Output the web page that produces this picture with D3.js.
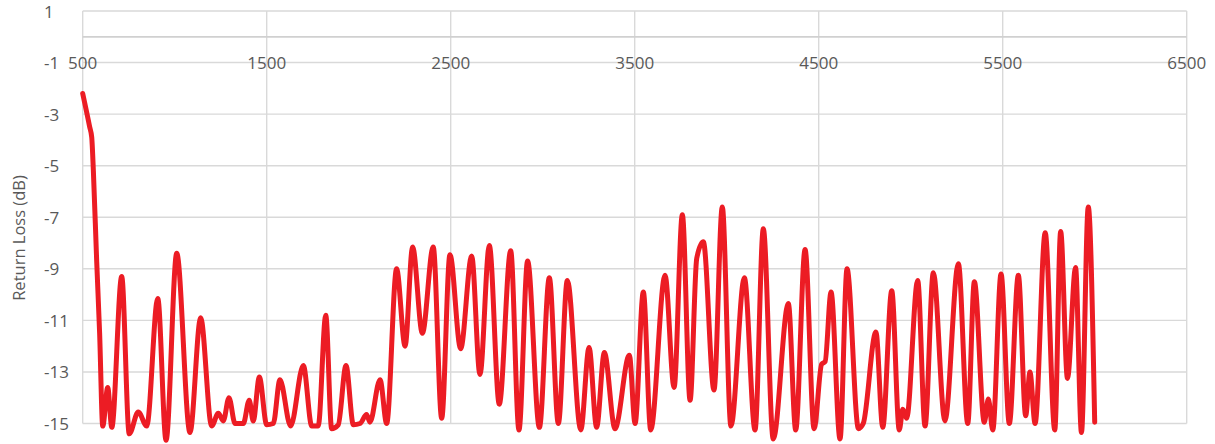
<!DOCTYPE html>
<html>
<head>
<meta charset="utf-8">
<script src="https://cdn.jsdelivr.net/npm/d3@7"></script>
<style>
  html, body { margin: 0; padding: 0; background: #ffffff; }
  svg { display: block; }
  text { font-family: "Open Sans", "Noto Sans", sans-serif; fill: #595959; }
</style>
</head>
<body>
<svg id="chart" width="1215" height="444"></svg>
<script>
// Frequency (MHz) sampled at visible peaks / troughs of the trace
const freq = [500, 538, 549, 558, 576, 592, 609, 636, 658, 712, 753, 802, 848, 908, 953, 1011, 1083, 1141, 1201, 1237, 1264, 1295, 1328, 1373, 1405, 1427, 1460, 1500, 1536, 1572, 1630, 1699, 1745, 1780, 1821, 1853, 1889, 1931, 1971, 2007, 2043, 2061, 2116, 2152, 2206, 2252, 2293, 2346, 2405, 2451, 2496, 2554, 2614, 2659, 2710, 2764, 2826, 2871, 2918, 2982, 3036, 3085, 3134, 3207, 3252, 3293, 3335, 3393, 3471, 3502, 3547, 3587, 3665, 3714, 3759, 3801, 3837, 3873, 3931, 3976, 4023, 4096, 4154, 4199, 4253, 4335, 4375, 4426, 4475, 4516, 4535, 4567, 4616, 4654, 4716, 4742, 4811, 4848, 4897, 4938, 4957, 4978, 5038, 5078, 5123, 5186, 5259, 5310, 5346, 5400, 5422, 5446, 5491, 5536, 5585, 5625, 5648, 5676, 5731, 5783, 5815, 5852, 5896, 5928, 5965, 6000];
// Return loss (dB)
const returnLoss = [-2.2, -3.5, -3.9, -5.2, -8.7, -11.5, -15.1, -13.6, -15.15, -9.3, -15.4, -14.55, -15.1, -10.15, -15.65, -8.4, -15.35, -10.9, -15.1, -14.6, -14.9, -14.0, -15.0, -15.0, -14.1, -14.9, -13.2, -15.05, -15.0, -13.3, -15.1, -12.75, -15.1, -15.1, -10.8, -15.2, -15.05, -12.75, -15.05, -15.0, -14.65, -14.95, -13.3, -15.0, -9.0, -12.0, -8.15, -11.5, -8.15, -14.8, -8.45, -12.1, -8.5, -13.1, -8.1, -14.25, -8.3, -15.25, -8.7, -15.15, -9.35, -15.0, -9.45, -15.25, -12.05, -15.15, -12.25, -15.2, -12.35, -15.0, -9.9, -15.25, -9.25, -13.6, -6.9, -14.1, -8.6, -7.95, -13.7, -6.6, -15.1, -9.35, -15.25, -7.45, -15.6, -10.35, -15.25, -8.25, -15.2, -12.7, -12.6, -9.9, -15.6, -9.0, -15.2, -15.0, -11.45, -15.15, -9.85, -15.25, -14.45, -14.8, -9.45, -15.1, -9.15, -14.9, -8.8, -15.0, -9.5, -14.95, -14.05, -15.25, -9.2, -15.0, -9.25, -14.7, -13.0, -15.0, -7.6, -15.25, -7.55, -13.25, -8.95, -15.35, -6.6, -14.95];

const xTicks = [500, 1500, 2500, 3500, 4500, 5500, 6500];
const yTicks = [1, -1, -3, -5, -7, -9, -11, -13, -15];
const yTitle = "Return Loss (dB)";

const svg = d3.select("#chart");
const x = d3.scaleLinear().domain([500, 6500]).range([82.7, 1186.7]);
const y = d3.scaleLinear().domain([-15, 1]).range([423.5, 11]);

const grid = "#d9d9d9";

// horizontal gridlines
svg.append("g").selectAll("line").data(yTicks).join("line")
  .attr("x1", x(500)).attr("x2", x(6500))
  .attr("y1", d => y(d)).attr("y2", d => y(d))
  .attr("stroke", grid).attr("stroke-width", 1.4);

// vertical gridlines
svg.append("g").selectAll("line").data(xTicks).join("line")
  .attr("x1", d => x(d)).attr("x2", d => x(d))
  .attr("y1", y(1)).attr("y2", y(-15))
  .attr("stroke", grid).attr("stroke-width", 1.4);

// horizontal axis line at 0
svg.append("line")
  .attr("x1", x(500)).attr("x2", x(6500))
  .attr("y1", y(0)).attr("y2", y(0))
  .attr("stroke", "#d0d0d0").attr("stroke-width", 1.8);

// x tick labels (below the axis at 0)
svg.append("g").selectAll("text").data(xTicks).join("text")
  .attr("x", d => x(d)).attr("y", y(0) + 32)
  .attr("text-anchor", "middle")
  .style("font-size", "17px")
  .text(d => d);

// y tick labels
svg.append("g").selectAll("text").data(yTicks).join("text")
  .attr("x", 44).attr("y", d => y(d) + 6.5)
  .attr("text-anchor", "start")
  .style("font-size", "17px")
  .text(d => d);

// y title
svg.append("text")
  .attr("transform", "translate(25,238) rotate(-90)")
  .attr("text-anchor", "middle")
  .style("font-size", "16.5px")
  .text(yTitle);

// the trace
const data = freq.map((f, i) => ({ f, v: returnLoss[i] }));
const line = d3.line().x(d => x(d.f)).y(d => y(d.v)).curve(d3.curveMonotoneX);
svg.append("path")
  .datum(data)
  .attr("d", line)
  .attr("fill", "none")
  .attr("stroke", "#ec1c24")
  .attr("stroke-width", 5)
  .attr("stroke-linejoin", "round")
  .attr("stroke-linecap", "round");
</script>
</body>
</html>
